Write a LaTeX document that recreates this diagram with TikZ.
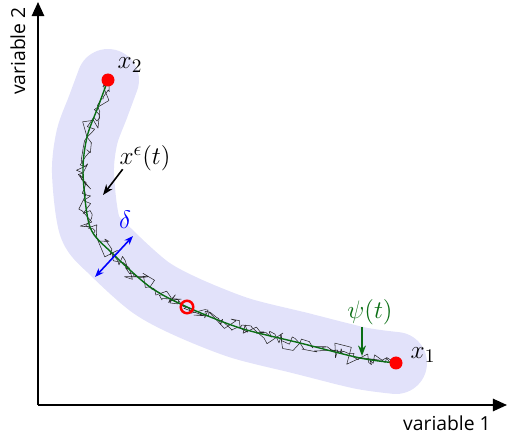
\documentclass[tikz,border=0pt]{standalone}
\usepackage{fontspec}
\setsansfont{Open Sans}
\usetikzlibrary{arrows.meta,positioning,decorations.pathmorphing}
\definecolor{bandblue}{RGB}{226,226,250}
\definecolor{pathgreen}{RGB}{10,110,20}
\tikzset{
  axis/.style  ={line width=1.1pt,-{Triangle[length=8pt,width=7pt]}},
  band/.style  ={line width=1.24cm,line cap=round,line join=round,bandblue},
  mean/.style  ={line width=0.8pt,pathgreen},
  noisy/.style ={line width=0.3pt,black!85,line join=round,decorate,
                 decoration={random steps,segment length=3.4pt,amplitude=5.5pt}},
  fine/.style  ={line width=0.3pt,black!85,line join=round,decorate,
                 decoration={random steps,segment length=1.8pt,amplitude=3pt}},
  pt/.style    ={circle,fill=red,inner sep=0pt,minimum size=2.6mm},
  ring/.style  ={circle,draw=red,line width=1.4pt,inner sep=0pt,minimum size=2.5mm},
  lbl/.style   ={font=\fontsize{15}{18}\selectfont,inner sep=1pt},
  axlbl/.style ={font=\sffamily\fontsize{11}{13}\selectfont,inner sep=0pt},
  ar/.style    ={line width=0.9pt,-{Stealth[length=6pt]}},
  dbl/.style   ={line width=0.9pt,{Stealth[length=5pt]}-{Stealth[length=5pt]}},
}
\begin{document}
\begin{tikzpicture}
  \useasboundingbox (0,0) rectangle (10.18,8.74);
  % axes
  \coordinate (o) at (0.76,0.64);
  \coordinate (xend) at (10.14,0.64);
  \coordinate (yend) at (0.76,8.70);
  % points along psi(t), from x2 down to x1
  \coordinate (p0) at (2.16,7.14);
  \coordinate (p1) at (1.96,6.60);
  \coordinate (p2) at (1.74,6.00);
  \coordinate (p3) at (1.66,5.28);
  \coordinate (p4) at (1.80,4.20);
  \coordinate (p5) at (2.24,3.68);
  \coordinate (p6) at (3.00,3.00);
  \coordinate (p7) at (3.74,2.60);
  \coordinate (p8) at (4.80,2.18);
  \coordinate (p9) at (6.00,1.88);
  \coordinate (p10) at (7.20,1.58);
  \coordinate (p11) at (7.92,1.48);
  \def\psipts{(p0) (p1) (p2) (p3) (p4) (p5) (p6) (p7) (p8) (p9) (p10) (p11)}

  \draw[band] plot[smooth,tension=0.5] coordinates \psipts;
  \pgfmathsetseed{23}
  \draw[noisy] plot coordinates \psipts;
  \draw[fine] plot coordinates \psipts;
  \draw[mean] plot[smooth,tension=0.5] coordinates \psipts;

  \draw[axis] (o) -- (xend);
  \draw[axis] (o) -- (yend);
  \node[axlbl] (xlab) at (8.94,0.28) {variable 1};
  \node[axlbl,rotate=90] (ylab) at (0.36,7.72) {variable 2};

  \node[pt] (x2) at (p0) {};
  \node[pt] (x1) at (p11) {};
  \node[ring] (xm) at (p7) {};
  \node[lbl] (x2lab) at (2.60,7.44) {$x_2$};
  \node[lbl] (x1lab) at (8.46,1.64) {$x_1$};

  % labels with arrows
  \node[lbl] (xelab) at (2.90,5.58) {$x^{\epsilon}(t)$};
  \coordinate (xetip) at (2.06,4.84);
  \draw[ar] ([xshift=3pt,yshift=2pt]xelab.south west) -- (xetip);

  \node[lbl,pathgreen] (psilab) at (7.40,2.50) {$\psi(t)$};
  \coordinate (psitip) at (7.24,1.62);
  \draw[ar,pathgreen] (psilab.south -| psitip) -- (psitip);

  \node[lbl,blue] (dlab) at (2.50,4.34) {$\delta$};
  \coordinate (dA) at (1.90,3.20);
  \coordinate (dB) at (2.66,4.02);
  \draw[dbl,blue] (dA) -- (dB);
\end{tikzpicture}
\end{document}
